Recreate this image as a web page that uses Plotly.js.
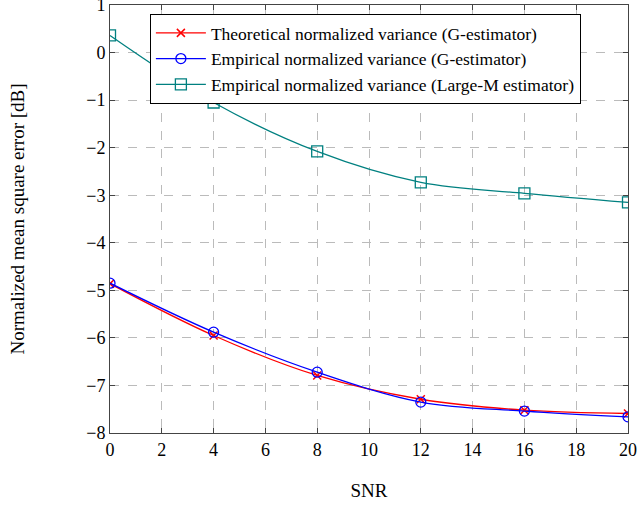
<!DOCTYPE html>
<html><head><meta charset="utf-8">
<script src="https://cdn.plot.ly/plotly-3.0.1.min.js"></script>
<style>html,body{margin:0;padding:0;background:#fff}</style>
</head><body>
<div id="chart" style="width:639px;height:508px"></div>
<script>
const snr = [0, 4, 8, 12, 16, 20];
const theoG = [-4.86, -5.95, -6.79, -7.29, -7.52, -7.59];
const empG = [-4.85, -5.88, -6.72, -7.35, -7.54, -7.66];
const empLargeM = [0.36, -1.05, -2.08, -2.73, -2.96, -3.15];
const yTickVals = [-8, -7, -6, -5, -4, -3, -2, -1, 0, 1];
const yTickText = ['\u22128', '\u22127', '\u22126', '\u22125', '\u22124', '\u22123', '\u22122', '\u22121', '0', '1'];
const names = [
  'Theoretical normalized variance (G-estimator)',
  'Empirical normalized variance (G-estimator)',
  'Empirical normalized variance (Large-M estimator)'
];
const FAM = 'Liberation Serif';
const traces = [
  {x: snr, y: theoG, name: names[0], mode: 'lines+markers',
   line: {color: '#ff0000', width: 1.3, shape: 'spline'},
   marker: {symbol: 'x-thin-open', size: 8, line: {color: '#ff0000', width: 1.5}}},
  {x: snr, y: empG, name: names[1], mode: 'lines+markers',
   line: {color: '#0000ff', width: 1.3, shape: 'spline'},
   marker: {symbol: 'circle-open', size: 10, color: '#0000ff', line: {width: 1.3}}},
  {x: snr, y: empLargeM, name: names[2], mode: 'lines+markers',
   line: {color: '#008080', width: 1.3, shape: 'spline'},
   marker: {symbol: 'square-open', size: 11, color: '#008080', line: {width: 1.3}}}
];
function axisCommon() {
  return {
    showline: true, linecolor: '#444', linewidth: 1, mirror: 'ticks',
    ticks: 'inside', ticklen: 5, tickcolor: '#444',
    showgrid: true, gridcolor: '#bbbbbb', griddash: 'dash', gridwidth: 1,
    zeroline: false, ticklabeloverflow: 'allow',
    tickfont: {family: FAM, size: 18, color: '#000'}
  };
}
const layout = {
  width: 639, height: 508,
  margin: {l: 110, r: 11, t: 5, b: 75},
  paper_bgcolor: '#fff', plot_bgcolor: '#fff',
  xaxis: Object.assign(axisCommon(), {range: [0, 20], dtick: 2,
    title: {text: 'SNR', font: {family: FAM, size: 19, color: '#000'}, standoff: 25}}),
  yaxis: Object.assign(axisCommon(), {range: [-8, 1], tickmode: 'array',
    tickvals: yTickVals, ticktext: yTickText,
    title: {text: 'Normalized mean square error [dB]', font: {family: FAM, size: 19, color: '#000'}, standoff: 56}}),
  showlegend: true,
  legend: {x: 0.077, y: 0.979, xanchor: 'left', yanchor: 'top',
    bgcolor: '#fff', bordercolor: '#000', borderwidth: 1, itemwidth: 50,
    font: {family: FAM, size: 17.5, color: '#000'}, tracegroupgap: 0}
};
Plotly.newPlot('chart', traces, layout, {displayModeBar: false, staticPlot: true});
</script>
</body></html>
